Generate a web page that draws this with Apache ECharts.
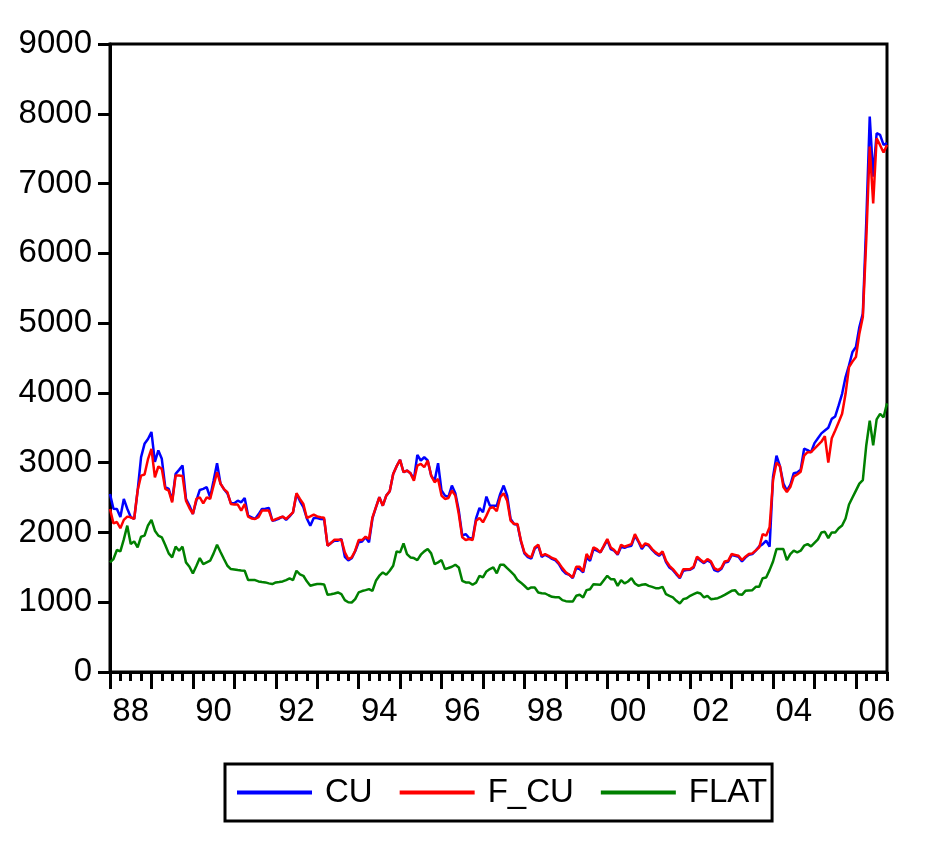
<!DOCTYPE html>
<html><head><meta charset="utf-8">
<script src="https://cdn.jsdelivr.net/npm/echarts@6/dist/echarts.min.js"></script>
<style>html,body{margin:0;padding:0;background:#fff}#c{width:947px;height:843px}</style>
</head><body><div id="c"></div>
<script>
// Monthly observations, 1988M01 .. 2006M10
const startYear = 1988;
const nMonths = 226;
const seriesNames = ['CU', 'F_CU', 'FLAT'];
const yTicks = [0, 1000, 2000, 3000, 4000, 5000, 6000, 7000, 8000, 9000];

const CU = [
2550,2340,2337,2220,2480,2340,2220,2195,2600,3080,3270,3340,
3440,3010,3175,3055,2650,2625,2456,2840,2897,2960,2480,2385,
2265,2456,2609,2624,2648,2504,2744,2992,2700,2620,2560,2420,
2418,2456,2432,2495,2241,2217,2193,2260,2337,2340,2351,2169,
2179,2200,2227,2179,2230,2289,2552,2450,2361,2200,2097,2207,
2207,2193,2190,1810,1850,1882,1882,1906,1650,1600,1630,1730,
1860,1870,1930,1860,2200,2360,2504,2384,2528,2590,2839,2950,
3040,2863,2887,2849,2760,3112,3031,3078,3031,2815,2740,2992,
2600,2528,2510,2672,2560,2313,1954,1977,1920,1910,2200,2351,
2289,2514,2384,2384,2384,2552,2672,2528,2193,2121,2110,1870,
1700,1645,1625,1770,1810,1650,1680,1655,1620,1600,1546,1460,
1410,1393,1345,1489,1474,1427,1642,1594,1762,1740,1714,1800,
1891,1762,1738,1680,1795,1780,1800,1810,1953,1870,1762,1830,
1810,1750,1700,1665,1710,1575,1498,1460,1400,1345,1450,1460,
1465,1495,1640,1595,1560,1600,1570,1460,1441,1475,1570,1580,
1675,1665,1650,1585,1640,1680,1690,1740,1800,1833,1881,1795,
2800,3100,2950,2700,2600,2680,2850,2860,2900,3200,3180,3150,
3280,3350,3420,3460,3500,3628,3662,3820,3987,4227,4394,4586,
4658,4945,5136,6450,7961,7100,7721,7697,7554,7578
];

const F_CU = [
2337,2130,2150,2060,2180,2227,2217,2193,2600,2815,2830,3050,
3198,2791,2945,2911,2624,2600,2432,2815,2815,2810,2456,2350,
2265,2480,2504,2418,2504,2480,2672,2863,2700,2620,2576,2408,
2400,2399,2313,2408,2227,2200,2193,2220,2313,2313,2313,2169,
2190,2210,2227,2193,2240,2289,2562,2480,2408,2207,2230,2255,
2230,2217,2210,1810,1850,1896,1896,1896,1714,1618,1642,1738,
1891,1891,1939,1906,2217,2360,2504,2384,2528,2590,2839,2950,
3040,2863,2887,2849,2743,2959,2983,2935,3031,2815,2719,2767,
2528,2480,2494,2600,2528,2265,1930,1891,1906,1891,2169,2207,
2145,2241,2351,2360,2303,2504,2561,2456,2169,2121,2121,1882,
1714,1666,1642,1786,1824,1666,1690,1666,1633,1618,1560,1489,
1430,1393,1355,1508,1508,1441,1690,1618,1786,1762,1714,1810,
1905,1786,1747,1690,1824,1795,1815,1833,1977,1881,1786,1843,
1824,1762,1714,1680,1728,1594,1522,1474,1415,1355,1474,1474,
1474,1508,1652,1610,1570,1618,1585,1489,1460,1489,1585,1594,
1690,1678,1666,1604,1652,1690,1700,1743,1786,1977,1953,2073,
2750,3000,2950,2650,2580,2650,2800,2830,2870,3100,3150,3150,
3200,3250,3300,3380,3000,3350,3461,3580,3700,3987,4370,4450,
4514,4849,5089,6200,7530,6716,7650,7550,7444,7554
];

const FLAT = [
1571,1619,1748,1729,1900,2097,1834,1872,1786,1939,1954,2100,
2179,2025,1954,1930,1820,1700,1643,1796,1738,1796,1571,1509,
1413,1520,1633,1547,1571,1595,1700,1824,1720,1620,1523,1475,
1470,1461,1455,1451,1317,1317,1317,1298,1290,1284,1270,1260,
1284,1290,1298,1317,1341,1317,1451,1400,1379,1300,1236,1250,
1260,1260,1255,1106,1115,1125,1140,1116,1030,1000,996,1044,
1140,1160,1173,1188,1164,1307,1380,1427,1393,1451,1523,1729,
1714,1843,1690,1642,1633,1604,1681,1729,1762,1700,1547,1571,
1604,1475,1490,1508,1537,1499,1307,1283,1283,1250,1280,1379,
1355,1441,1475,1499,1413,1537,1537,1489,1441,1393,1317,1280,
1236,1188,1212,1212,1140,1130,1125,1100,1078,1070,1070,1030,
1015,1010,1010,1092,1106,1068,1173,1187,1259,1255,1250,1316,
1379,1331,1331,1235,1316,1269,1297,1345,1269,1235,1250,1259,
1235,1220,1202,1202,1221,1115,1090,1068,1020,981,1044,1058,
1092,1115,1139,1125,1068,1092,1044,1050,1058,1080,1106,1135,
1163,1173,1115,1106,1163,1168,1173,1221,1221,1345,1354,1460,
1584,1762,1762,1762,1604,1690,1738,1714,1738,1810,1833,1800,
1850,1900,2000,2010,1920,2000,2000,2060,2100,2200,2400,2500,
2600,2700,2750,3250,3600,3250,3620,3700,3650,3850
];

const months = [];
for (let k = 0; k < nMonths; k++) {
  const y = startYear + Math.floor(k / 12);
  const m = (k % 12) + 1;
  months.push(y + '-' + (m < 10 ? '0' + m : m));
}

const FONT = '"Liberation Sans", Arial, sans-serif';
const chart = echarts.init(document.getElementById('c'), null, {renderer: 'canvas'});
chart.setOption({
  animation: false,
  backgroundColor: '#fff',
  grid: {left: 110, top: 44, width: 777, height: 628, show: true, borderColor: '#000', borderWidth: 3, backgroundColor: 'transparent'},
  legend: {
    data: seriesNames,
    left: 225, top: 764,
    icon: 'rect', itemWidth: 75, itemHeight: 4, itemGap: 27,
    padding: [12, 5, 12, 12],
    borderColor: '#000', borderWidth: 3,
    textStyle: {fontFamily: FONT, fontSize: 33, color: '#000', padding: [0, 0, 0, 8]}
  },
  xAxis: [{
    type: 'category', data: months, boundaryGap: false,
    axisLine: {show: true, lineStyle: {color: '#000', width: 3}},
    axisTick: {show: true, length: 9, lineStyle: {color: '#000', width: 3},
      interval: function (idx) { return idx % 3 === 0; }},
    axisLabel: {show: true, fontFamily: FONT, fontSize: 33, color: '#000', margin: 23,
      interval: function (idx) { return idx % 24 === 6; },
      formatter: function (v) { return v.slice(2, 4); }},
    splitLine: {show: false}
  }, {
    type: 'category', data: months, boundaryGap: false, position: 'bottom',
    axisLine: {show: false},
    axisTick: {show: true, length: 17, lineStyle: {color: '#000', width: 3},
      interval: function (idx) { return idx % 12 === 0; }},
    axisLabel: {show: false},
    splitLine: {show: false}
  }],
  yAxis: {
    type: 'value', min: yTicks[0], max: yTicks[yTicks.length - 1], interval: 1000,
    axisLine: {show: true, lineStyle: {color: '#000', width: 3}},
    axisTick: {show: true, length: 12, lineStyle: {color: '#000', width: 3}},
    axisLabel: {fontFamily: FONT, fontSize: 33, color: '#000', margin: 18,
      formatter: function (v) { return String(v); }},
    splitLine: {show: false}
  },
  series: [
    {name: 'CU', type: 'line', data: CU, symbol: 'none', lineStyle: {color: '#0000ff', width: 2.5}, itemStyle: {color: '#0000ff'}},
    {name: 'F_CU', type: 'line', data: F_CU, symbol: 'none', lineStyle: {color: '#ff0000', width: 2.5}, itemStyle: {color: '#ff0000'}},
    {name: 'FLAT', type: 'line', data: FLAT, symbol: 'none', lineStyle: {color: '#008000', width: 2.5}, itemStyle: {color: '#008000'}}
  ]
});
</script></body></html>
